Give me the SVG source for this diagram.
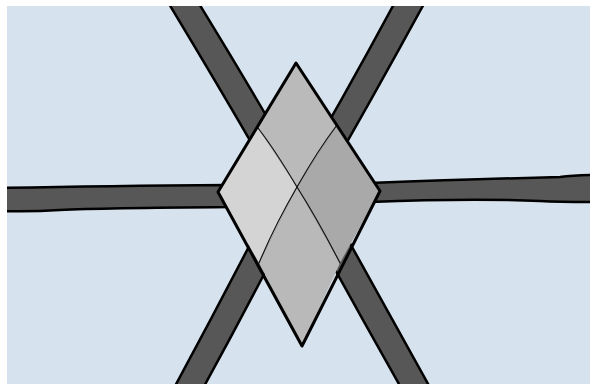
<svg xmlns="http://www.w3.org/2000/svg" width="590" height="384" viewBox="0 0 590 384">
<defs>
<clipPath id="bgclip"><rect x="7" y="6" width="583" height="378"/></clipPath>
<style>
.bar{fill:#575757;stroke:#000;stroke-width:2.5;stroke-linejoin:round}
.quad{stroke:none}
.inner{fill:none;stroke:#111;stroke-width:1.2;stroke-linecap:round}
.outline{fill:none;stroke:#000;stroke-width:3;stroke-linejoin:round}
</style>
</defs>
<rect width="590" height="384" fill="#ffffff"/>
<rect x="7" y="6" width="583" height="378" fill="#d6e2ee"/>
<g id="connectors" clip-path="url(#bgclip)">
<path class="bar" d="M160.6,-10 Q226,98 278.6,190 L309,190 Q256,96 190.6,-10 Z"/>
<path class="bar" d="M401.5,-10 Q347,92 289.5,190 L319.5,190 Q375,94 431.5,-10 Z"/>
<path class="bar" d="M167.5,400 Q225,294 278,190 L307,190 Q254,296 196.5,400 Z"/>
<path class="bar" d="M408,400 Q349,296 291.4,190 L320.4,190 Q378,294 437,400 Z"/>
<path class="bar" d="M0,188 Q100,186 230,185 L230,207 Q100,208 60,210 Q30,212 0,211 Z"/>
<path class="bar" d="M370,183 Q480,179 560,177 Q575,175 600,175 L600,202 Q560,202 540,201 Q470,198 370,202 Z"/>
</g>
<g id="diamond">
<polygon class="quad" fill="#bababa" points="296,63 337,125 297,187 258,128"/>
<polygon class="quad" fill="#d4d4d4" points="258,128 297,187 259,263 218,192"/>
<polygon class="quad" fill="#a9a9a9" points="337,125 380,191 340,263 297,187"/>
<polygon class="quad" fill="#b9b9b9" points="297,187 340,263 302,346 259,263"/>
<path class="inner" d="M258,128 Q275,150 297,187 Q318,220 340,263"/>
<path class="inner" d="M337,125 Q318,150 297,187 Q275,225 259,263"/>
<path class="outline" d="M296,63 L380,191 L302,346 L218,192 Z"/>
</g>
</svg>
